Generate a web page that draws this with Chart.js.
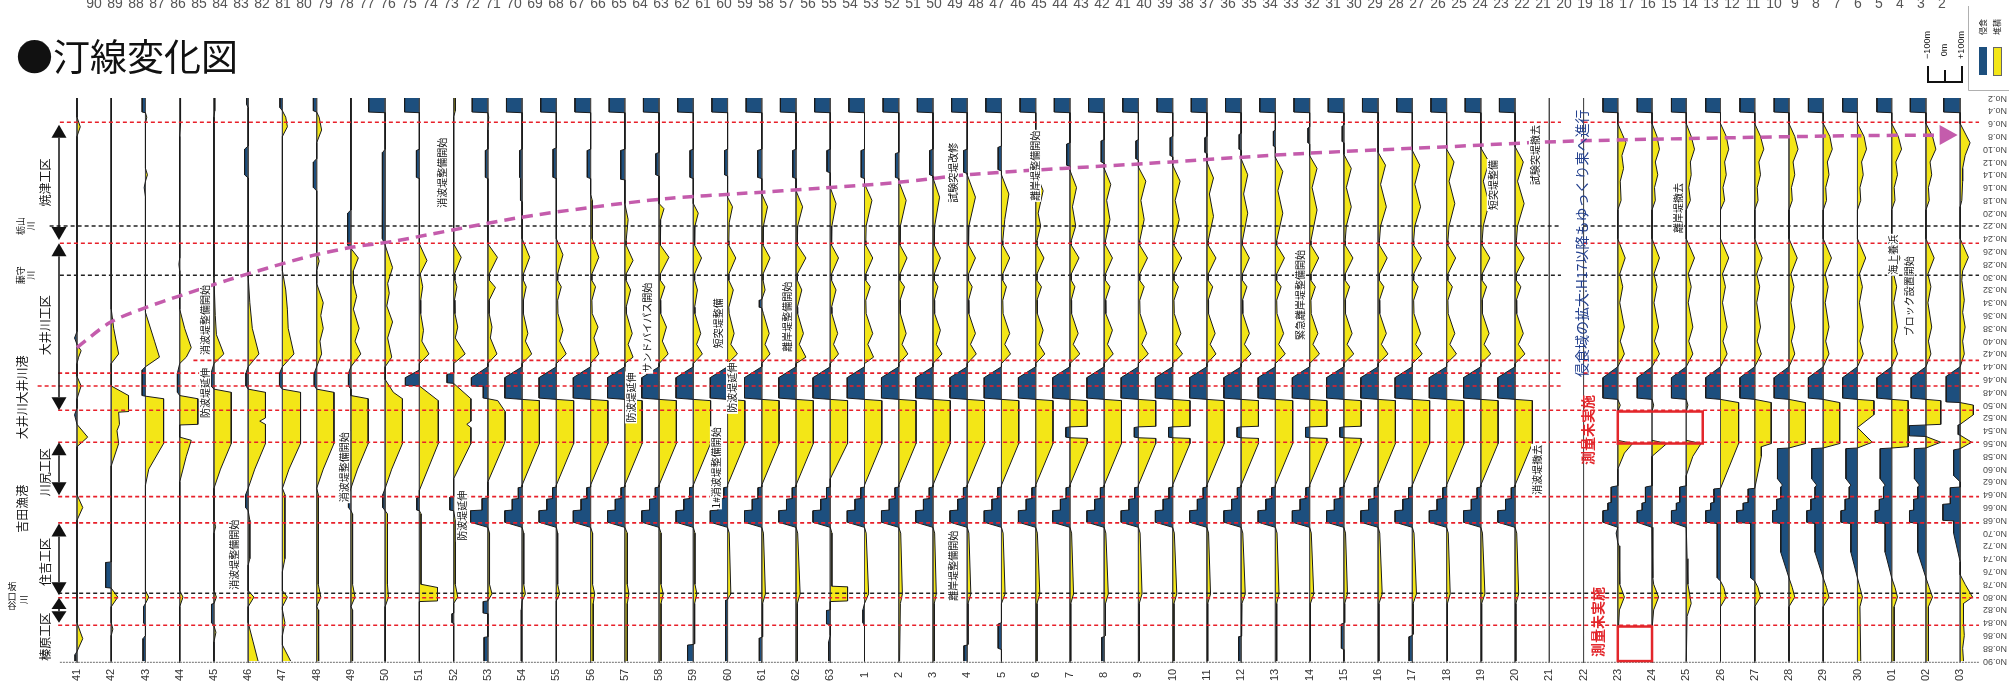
<!DOCTYPE html>
<html>
<head>
<meta charset="utf-8">
<title>汀線変化図</title>
<script src="https://cdn.jsdelivr.net/npm/chart.js@4.4.1/dist/chart.umd.min.js"></script>
<style>
  html, body { margin: 0; padding: 0; background: #fff; }
  #wrap { width: 2009px; height: 685px; }
</style>
</head>
<body>
<div id="wrap"><canvas id="shoreline" width="2009" height="685"></canvas></div>
<script>
// 汀線変化図 — each column is one survey year, stations No.2..No.90 run top to bottom,
// values are shoreline change in metres (− = 侵食 / + = 堆積)

const years = ['41','42','43','44','45','46','47','48','49','50','51','52','53','54','55','56','57','58','59','60','61','62','63',
  '1','2','3','4','5','6','7','8','9','10','11','12','13','14','15','16','17','18','19','20','21','22','23','24','25','26','27','28','29','30',
  '01','02','03'];

// [station, metres, station, metres, ...]; null = not surveyed
const showaProfiles = [
  [2,0, 5,0, 6.5,20, 8,0, 38.5,0, 39.5,-15, 40.5,0, 41.5,25, 42.5,10, 43.5,0, 45.5,0, 47,25, 49,0, 50.5,0, 51.5,-15, 53,0, 55,65, 56.5,0, 64,0, 66,35, 68,0, 84,0, 86.5,35, 88.5,0, 89,-12, 90,-12],
  [2,0, 35,0, 38,15, 42,45, 43.5,0, 47,0, 48.5,105, 51,105, 51.1,45, 53,50, 54,35, 56,45, 59.5,0, 74.5,0, 74.6,-34, 78.5,-34, 78.6,0, 80,40, 81.5,0, 84,0, 85,10, 86,0, 90,0],
  [2,-20, 4.2,-20, 4.3,0, 5,8, 6,0, 13,0, 14,12, 15,0, 16,-8, 17.5,0, 35.5,0, 40,55, 42.5,85, 44,0, 44.5,-20, 48.5,-20, 48.6,0, 49,110, 56,110, 60,20, 62.5,0, 79,0, 80,20, 81,0, 81.5,-12, 84,-12, 84.5,0, 86,0, 86.5,-15, 90,-15],
  [2,5, 6,5, 8,0, 27,0, 28,-5, 29,0, 35,0, 38,30, 41,70, 42.5,40, 43.5,0, 45,-14, 48,-14, 48.5,0, 49,110, 53,110, 53.1,0, 55,0, 55.5,70, 58,40, 62,0, 79,0, 80,20, 81.5,0, 90,0],
  [2,5, 4,5, 5,0, 30,0, 36,8, 39,15, 42,60, 43.5,0, 45,-18, 47,-18, 47.5,0, 48,105, 56,105, 60,40, 63,0, 68,0, 69,10, 70,0, 79,0, 80,15, 81,0, 81.1,-15, 84,-15, 84.5,0, 85.5,12, 87,0, 90,0],
  [2,-10, 3,-10, 3.5,0, 9.5,0, 10,-22, 14,-22, 14.5,0, 30,0, 34,10, 38,25, 42,65, 44,0, 45,-14, 47,-14, 47.5,0, 48,105, 52,105, 52.5,70, 53,105, 56,105, 60,40, 63,0, 64,-16, 66,-16, 66.5,0, 68,10, 74,10, 75,0, 79,0, 80,35, 81.5,0, 84,0, 87,30, 90,60],
  [2,-15, 3.5,-15, 4,0, 5,20, 6.5,30, 8,0, 29,0, 32,20, 35,30, 38,35, 42,70, 44,0, 45,-18, 47,-18, 47.5,0, 48,110, 56,110, 60,40, 63,0, 64,15, 74,15, 76,0, 79,0, 80,30, 81.5,0, 82,0, 84,15, 86,0, 87.5,0, 90,50],
  [2,-20, 4,-20, 4.2,0, 5,15, 7,30, 9,0, 11.5,0, 12,-20, 16,-20, 16.5,0, 26,0, 27.5,15, 29,0, 31,0, 34,40, 36,25, 38,40, 40,20, 42,30, 44,0, 45,-15, 47,-15, 47.5,0, 48,105, 56,105, 60,40, 63,0, 64,10, 78,10, 80,25, 81.5,0, 82,10, 90,12],
  [2,0, 19.5,0, 20,-20, 25,-20, 25.5,0, 27,45, 29,15, 31,15, 33,35, 35,15, 38,50, 40,25, 42,60, 44,0, 45,-15, 47,-15, 47.5,0, 48.5,0, 49,105, 56,105, 60,40, 63,0, 64,-15, 66,-15, 66.5,0, 67,10, 78,10, 80,25, 81.5,0, 82,10, 90,10],
  [2,-100, 4.2,-100, 4.3,0, 10,0, 10.5,-15, 14,-15, 14.5,-18, 24,-18, 25,0, 28.5,45, 31,15, 32.5,25, 34.5,10, 37,45, 39.5,15, 42.5,40, 44,0, 46,0, 48,50, 49,105, 56,105, 60,40, 63,0, 64,-15, 66,-15, 66.5,0, 67,14, 78,14, 80,20, 81.5,0, 90,0],
  [2,-90, 4.2,-90, 4.3,0, 10,0, 10.2,-18, 14.4,-18, 14.6,0, 24.8,0, 27.4,46, 29.5,5, 31.5,20, 33.6,8, 35.7,8, 38.3,25, 40,15, 42,58, 43.5,0, 44.5,0, 45.7,-85, 46.9,-85, 47,0, 49.3,115, 56,115, 63.3,0, 64.4,0, 64.5,-16, 66.4,-16, 66.5,0, 67,10, 78,10, 78.5,110, 80.6,110, 80.7,0, 90,0],
  [2,10, 4,10, 5,0, 24.8,0, 26.9,46, 29.5,5, 30.5,8, 31.5,20, 33.6,5, 35.7,8, 37.8,25, 39.5,10, 42,70, 43.5,0, 45,0, 45.2,-40, 46.5,-40, 46.6,0, 49,105, 52.5,105, 53,80, 53.5,105, 56,105, 61.5,0, 64.3,0, 64.4,-23, 66.4,-23, 66.5,0, 68,10, 78,10, 80,25, 81,0, 82.5,0, 82.6,-10, 84,-10, 84.1,0, 90,0],
  [2,-95, 4.2,-95, 4.3,0, 5,5, 7,0, 10,0, 10.2,-15, 14.4,-15, 14.6,0, 24.8,0, 26.9,58, 29.5,8, 30.5,10, 31.6,46, 33.6,8, 35.7,8, 37.8,25, 39.5,15, 42,55, 43.5,0, 44,0, 45.7,-100, 47,-100, 47.1,-28, 48.9,-28, 49,0, 49.3,60, 51,105, 55.5,105, 56,100, 62,0, 64.5,0, 64.6,-35, 66.4,-35, 66.5,-105, 68.3,-105, 69.1,0, 70,10, 78,10, 79.5,25, 80.6,0, 80.7,-28, 82.5,-28, 82.6,0, 86.2,0, 86.3,-23, 90,-23],
  [2,-95, 4.2,-95, 4.3,0, 10,0, 10.2,-15, 14.4,-15, 14.6,-10, 18,-10, 18.2,0, 24,0, 26.9,46, 29.5,8, 30.5,8, 31.5,25, 33.6,8, 35.7,8, 38.8,35, 40,20, 42,58, 43.5,0, 44,0, 45.7,-105, 48.9,-105, 49.1,0, 49.3,105, 56,105, 62.5,0, 62.8,0, 62.9,-23, 64.6,-23, 64.7,-60, 66.4,-60, 66.5,-105, 68.3,-105, 69.1,0, 70,10, 78,10, 79.5,20, 80.6,0, 82,-5, 90,-5],
  [2,-95, 4.2,-95, 4.3,0, 9.8,0, 10,-20, 14.4,-20, 14.6,0, 24,0, 26.5,40, 29.5,8, 30.5,8, 31.5,30, 33.6,8, 35.7,10, 38.3,40, 40,20, 42,60, 43.5,0, 44,0, 45.7,-105, 48.9,-105, 49.1,0, 49.3,105, 56,105, 62.5,0, 62.8,0, 62.9,-23, 64.6,-23, 64.7,-58, 66.4,-58, 66.5,-105, 68.3,-105, 69.1,0, 70,8, 78,8, 79.5,20, 80.6,0, 90,0],
  [2,-95, 4.2,-95, 4.3,0, 10,0, 10.2,-20, 14.4,-20, 14.6,0, 17,0, 18,10, 24,10, 26.9,50, 29.5,8, 30.5,8, 31.5,30, 33.6,8, 35.7,10, 37.8,45, 39.5,20, 42,50, 43.5,0, 44,0, 45.7,-105, 48.9,-105, 49.1,0, 49.3,105, 56,105, 62.5,0, 62.8,0, 62.9,-23, 64.6,-23, 64.7,-58, 66.4,-58, 66.5,-105, 68.3,-105, 69.1,0, 70,12, 78,12, 79.5,25, 81,16, 90,16],
  [2,-95, 4.2,-95, 4.3,0, 10,0, 10.2,-25, 14.7,-25, 14.8,0, 18.5,0, 21,20, 24.3,8, 25,8, 27.4,50, 29.5,8, 30.5,8, 32,35, 34.7,8, 35.7,10, 38.8,45, 40.5,20, 42.5,50, 43.5,0, 44,0, 45.7,-105, 48.9,-105, 49.1,0, 49.3,105, 56,105, 62.5,0, 62.8,0, 62.9,-23, 64.6,-23, 64.7,-58, 66.4,-58, 66.5,-105, 68.3,-105, 69.1,0, 70,15, 78,15, 79.5,25, 81,15, 90,15],
  [2,-95, 4.2,-95, 4.3,0, 10.5,0, 10.7,-20, 14,-20, 14.2,0, 18.5,0, 19.3,30, 21,10, 24.3,8, 25,8, 26.9,60, 29.5,8, 30.5,8, 31.5,35, 33.6,8, 35.7,10, 37.8,45, 40,20, 42,55, 43.5,0, 44,0, 45.7,-105, 48.9,-105, 49.1,0, 49.3,105, 56,105, 62.5,0, 62.8,0, 62.9,-23, 64.6,-23, 64.7,-58, 66.4,-58, 66.5,-105, 68.3,-105, 69.1,0, 70,12, 78,12, 79.5,25, 81,12, 90,12],
  [2,-95, 4.2,-95, 4.3,0, 10,0, 10.2,-20, 14.4,-20, 14.6,0, 18.5,0, 20,30, 22,10, 24.3,8, 25,8, 27,50, 29.5,8, 30.5,8, 32,25, 34.7,8, 35.7,10, 38.8,45, 40.5,20, 42,55, 43.5,0, 44,0, 45.7,-105, 48.9,-105, 49.1,0, 49.3,105, 56,105, 62.5,0, 62.8,0, 62.9,-23, 64.6,-23, 64.7,-58, 66.4,-58, 66.5,-105, 68.3,-105, 69.1,0, 70,10, 78,10, 79.5,22, 81,8, 87.3,8, 87.4,0, 87.5,-35, 90,-35],
  [2,-95, 4.2,-95, 4.3,0, 10,0, 10.2,-18, 14,-18, 14.2,0, 17.5,0, 19,30, 21.5,10, 24.3,8, 25,8, 27,50, 29.5,8, 30.5,8, 32,35, 34.7,8, 35.7,10, 38.8,40, 40.5,20, 42,60, 43.5,0, 44,0, 45.7,-105, 48.9,-105, 49.1,0, 49.3,105, 56,105, 62.5,0, 62.8,0, 62.9,-23, 64.6,-23, 64.7,-58, 66.4,-58, 66.5,-105, 68.3,-105, 69.1,0, 70,10, 79.5,20, 80.4,0, 80.5,-12, 90,-12],
  [2,-95, 4.2,-95, 4.3,0, 10,0, 10.2,-25, 14.4,-25, 14.6,0, 17,0, 19,35, 22,10, 24.3,8, 25,8, 27,50, 29.5,8, 30.5,8, 32,20, 33.5,0, 33.6,-15, 34.7,-15, 34.8,0, 35.7,10, 38.8,45, 40.5,20, 42,50, 43.5,0, 44,0, 45.7,-105, 48.9,-105, 49.1,0, 49.3,105, 56,105, 62.5,0, 62.8,0, 62.9,-23, 64.6,-23, 64.7,-58, 66.4,-58, 66.5,-105, 68.3,-105, 69.1,0, 70,10, 79.5,22, 81,5, 86.2,5, 86.3,0, 86.4,-15, 90,-15],
  [2,-95, 4.2,-95, 4.3,0, 10,0, 10.2,-20, 14.4,-20, 14.6,0, 16.5,0, 19,40, 22,10, 24.3,8, 25,8, 27,60, 29.5,8, 30.5,8, 32,35, 34.7,8, 35.7,10, 38.8,45, 40.5,20, 42.5,60, 43.5,0, 44,0, 45.7,-105, 48.9,-105, 49.1,0, 49.3,105, 56,105, 62.5,0, 62.8,0, 62.9,-23, 64.6,-23, 64.7,-58, 66.4,-58, 66.5,-105, 68.3,-105, 69.1,0, 70,10, 79.5,25, 81,8, 90,8],
  [2,-95, 4.2,-95, 4.3,0, 10,0, 10.2,-20, 13.5,-20, 13.7,0, 16,0, 18.5,35, 22,10, 24.3,8, 25,8, 27,50, 29.5,8, 30.5,8, 32,35, 34.7,8, 35.7,10, 38.8,45, 40.5,20, 42,50, 43.5,0, 44,0, 45.7,-105, 48.9,-105, 49.1,0, 49.3,105, 56,105, 61.5,0, 62.8,0, 62.9,-23, 64.6,-23, 64.7,-58, 66.4,-58, 66.5,-105, 68.3,-105, 69.1,0, 70,10, 78.3,10, 78.4,105, 80.6,105, 80.7,0, 82,0, 82.1,-23, 84.2,-23, 84.3,0, 86,0, 87,-10, 90,-10]
];

const heiseiProfiles = [
  [2,-95, 4.2,-95, 4.3,0, 10,0, 10.2,-20, 14.4,-20, 14.6,0, 15.4,0, 18,45, 22,10, 24.3,8, 25,8, 27,50, 29.5,8, 30.5,8, 31.5,35, 33.6,8, 35.7,10, 38.8,50, 40.5,20, 42.5,55, 43.5,0, 44,0, 45.7,-105, 48.9,-105, 49.1,0, 49.3,105, 56,105, 62.5,0, 62.8,0, 62.9,-23, 64.6,-23, 64.7,-58, 66.4,-58, 66.5,-105, 68.3,-105, 69.1,0, 70,10, 79.5,25, 81,0, 82,-10, 84,-10, 84.5,0, 90,0],
  [2,-95, 4.2,-95, 4.3,0, 10.5,0, 10.7,-20, 14.4,-20, 14.6,0, 15,0, 18,45, 22,10, 24.3,8, 25,8, 27,50, 29.5,8, 30.5,8, 31.5,35, 33.6,8, 35.7,10, 38.8,45, 40.5,20, 42,55, 43.5,0, 44,0, 45.7,-105, 48.9,-105, 49.1,0, 49.3,105, 56,105, 62.5,0, 62.8,0, 62.9,-23, 64.6,-23, 64.7,-58, 66.4,-58, 66.5,-105, 68.3,-105, 69.1,0, 70,12, 79.5,22, 81,10, 90,5],
  [2,-95, 4.2,-95, 4.3,0, 10,0, 10.2,-20, 14,-20, 14.2,0, 14.5,0, 17.5,40, 22,10, 24.3,8, 25,8, 27,45, 29.5,8, 30.5,8, 31.5,30, 33.6,8, 35.7,10, 38.3,45, 40.5,20, 42,55, 43.5,0, 44,0, 45.7,-105, 48.9,-105, 49.1,0, 49.3,105, 56,105, 62.5,0, 62.8,0, 62.9,-23, 64.6,-23, 64.7,-58, 66.4,-58, 66.5,-105, 68.3,-105, 69.1,0, 70,10, 79.5,20, 81,8, 90,8],
  [2,-95, 4.2,-95, 4.3,0, 10,0, 10.2,-22, 13.6,-22, 13.8,0, 14,0, 17.5,50, 22,10, 24.3,8, 25,8, 27,50, 29.5,8, 30.5,8, 31.5,30, 33.6,8, 35.7,10, 38.8,50, 40.5,20, 42,55, 43.5,0, 44,0, 45.7,-105, 48.9,-105, 49.1,0, 49.3,105, 56,105, 62.5,0, 62.8,0, 62.9,-23, 64.6,-23, 64.7,-58, 66.4,-58, 66.5,-105, 68.3,-105, 69.1,0, 70,10, 79.5,22, 81,5, 87.4,5, 87.5,0, 87.6,-20, 90,-20],
  [2,-95, 4.2,-95, 4.3,0, 9.5,0, 9.7,-20, 13.2,-20, 13.4,0, 14,0, 17,45, 21,20, 24.3,8, 25,8, 27,50, 29.5,8, 30.5,8, 31.5,30, 33.6,8, 35.7,10, 38.8,50, 40.5,20, 42,55, 43.5,0, 44,0, 45.7,-105, 48.9,-105, 49.1,0, 49.3,105, 56,105, 62.5,0, 62.8,0, 62.9,-23, 64.6,-23, 64.7,-58, 66.4,-58, 66.5,-105, 68.3,-105, 69.1,0, 70,10, 79.5,22, 81,0, 84,0, 84.2,-20, 88,-20, 88.2,0, 90,0],
  [2,-95, 4.2,-95, 4.3,0, 9,0, 9.2,-20, 12.8,-20, 13,0, 13.5,0, 16.5,45, 20,15, 22,30, 24.3,8, 25,8, 27,50, 29.5,8, 30.5,8, 31.5,35, 33.6,8, 35.7,10, 38.3,45, 40.5,20, 42,55, 43.5,0, 44,0, 45.7,-105, 48.9,-105, 49.1,0, 49.3,105, 56,105, 62.5,0, 62.8,0, 62.9,-23, 64.6,-23, 64.7,-58, 66.4,-58, 66.5,-105, 68.3,-105, 69.1,0, 70,10, 79.5,25, 81,8, 90,8],
  [2,-95, 4.2,-95, 4.3,0, 9,0, 9.2,-20, 12.5,-20, 12.7,0, 13.3,0, 16,40, 19,15, 22,35, 24.3,8, 25,8, 27,55, 29.5,8, 30.5,8, 31.5,30, 33.6,8, 35.7,10, 38.8,50, 40.5,20, 42,60, 43.5,0, 44,0, 45.7,-105, 48.9,-105, 49.1,0, 49.3,105, 53.3,105, 53.4,0, 53.5,-25, 55,-25, 55.1,0, 55.2,105, 56,105, 62.5,0, 62.8,0, 62.9,-23, 64.6,-23, 64.7,-58, 66.4,-58, 66.5,-105, 68.3,-105, 69.1,0, 70,10, 79.5,22, 81,5, 90,5],
  [2,-95, 4.2,-95, 4.3,0, 8.5,0, 8.7,-18, 12,-18, 12.2,0, 13,0, 15.5,40, 18,15, 21,35, 24.3,8, 25,8, 27,50, 29.5,8, 30.5,8, 31.5,35, 33.6,8, 35.7,10, 38.3,50, 40.5,20, 42,55, 43.5,0, 44,0, 45.7,-105, 48.9,-105, 49.1,0, 49.3,105, 56,105, 62.5,0, 62.8,0, 62.9,-23, 64.6,-23, 64.7,-58, 66.4,-58, 66.5,-105, 68.3,-105, 69.1,0, 70,10, 79.5,25, 81,8, 86,8, 86.2,0, 86.3,-15, 90,-15],
  [2,-95, 4.2,-95, 4.3,0, 8.5,0, 8.7,-15, 11.5,-15, 11.7,0, 12.8,0, 15,45, 18,15, 21,35, 24.3,8, 25,8, 27,55, 29.5,8, 30.5,8, 31.5,35, 33.6,8, 35.7,10, 38.8,50, 40.5,20, 42,60, 43.5,0, 44,0, 45.7,-105, 48.9,-105, 49.1,0, 49.3,105, 53.3,105, 53.4,0, 53.5,-25, 55,-25, 55.1,0, 55.2,105, 56,105, 62.5,0, 62.8,0, 62.9,-23, 64.6,-23, 64.7,-58, 66.4,-58, 66.5,-105, 68.3,-105, 69.1,0, 70,10, 79.5,22, 81,5, 90,5],
  [2,-95, 4.2,-95, 4.3,0, 8,0, 8.2,-15, 11,-15, 11.2,0, 12.5,0, 15,45, 18,15, 21,40, 24.3,8, 25,8, 27,55, 29.5,8, 30.5,8, 31.5,35, 33.6,8, 35.7,10, 38.8,50, 40.5,20, 42,60, 43.5,0, 44,0, 45.7,-105, 48.9,-105, 49.1,0, 49.3,105, 53.3,105, 53.4,0, 53.5,-25, 55,-25, 55.1,0, 55.2,105, 56,105, 62.5,0, 62.8,0, 62.9,-23, 64.6,-23, 64.7,-58, 66.4,-58, 66.5,-105, 68.3,-105, 69.1,0, 70,10, 79.5,25, 81,8, 90,8],
  [2,-95, 4.2,-95, 4.3,0, 8,0, 8.2,-12, 10.5,-12, 10.7,0, 12,0, 14.5,40, 17,15, 20.5,40, 24.3,8, 25,8, 27,55, 29.5,8, 30.5,8, 31.5,35, 33.6,8, 35.7,10, 38.8,50, 40.5,20, 42,55, 43.5,0, 44,0, 45.7,-105, 48.9,-105, 49.1,0, 49.3,105, 56,105, 62.5,0, 62.8,0, 62.9,-23, 64.6,-23, 64.7,-58, 66.4,-58, 66.5,-105, 68.3,-105, 69.1,0, 70,10, 79.5,22, 81,5, 90,5],
  [2,-95, 4.2,-95, 4.3,0, 7.5,0, 7.7,-12, 10,-12, 10.2,0, 11.5,0, 14,40, 17,15, 20,40, 24.3,8, 25,8, 27,50, 29.5,8, 30.5,8, 31.5,35, 33.6,8, 35.7,10, 38.8,50, 40.5,20, 42,60, 43.5,0, 44,0, 45.7,-105, 48.9,-105, 49.1,0, 49.3,105, 53.3,105, 53.4,0, 53.5,-25, 55,-25, 55.1,0, 55.2,105, 56,105, 62.5,0, 62.8,0, 62.9,-23, 64.6,-23, 64.7,-58, 66.4,-58, 66.5,-105, 68.3,-105, 69.1,0, 70,10, 79.5,25, 81,5, 86,5, 86.1,0, 86.2,-15, 90,-15],
  [2,-95, 4.2,-95, 4.3,0, 7,0, 7.2,-12, 9.5,-12, 9.7,0, 11.3,0, 13.5,45, 16.5,15, 20,45, 24.3,8, 25,8, 27,55, 29.5,8, 30.5,8, 31.5,35, 33.6,8, 35.7,10, 38.8,50, 40.5,20, 42,60, 43.5,0, 44,0, 45.7,-105, 48.9,-105, 49.1,0, 49.3,105, 56,105, 62.5,0, 62.8,0, 62.9,-23, 64.6,-23, 64.7,-58, 66.4,-58, 66.5,-105, 68.3,-105, 69.1,0, 70,10, 79.5,22, 81,8, 90,8],
  [2,-95, 4.2,-95, 4.3,0, 6.5,0, 6.7,-10, 9,-10, 9.2,0, 11,0, 13,45, 16,15, 19.5,45, 24.3,8, 25,8, 27,55, 29.5,8, 30.5,8, 31.5,35, 33.6,8, 35.7,10, 38.8,50, 40.5,20, 42,60, 43.5,0, 44,0, 45.7,-105, 48.9,-105, 49.1,0, 49.3,105, 53.3,105, 53.4,0, 53.5,-25, 55,-25, 55.1,0, 55.2,105, 56,105, 62.5,0, 62.8,0, 62.9,-23, 64.6,-23, 64.7,-58, 66.4,-58, 66.5,-105, 68.3,-105, 69.1,0, 70,10, 79.5,25, 81,5, 90,5],
  [2,-95, 4.2,-95, 4.3,0, 6.2,0, 6.4,-10, 8.8,-10, 9,0, 10.8,0, 13,45, 16,15, 19,45, 22,15, 24.3,8, 25,8, 27,55, 29.5,8, 30.5,8, 31.5,35, 33.6,8, 35.7,10, 38.8,50, 40.5,20, 42,60, 43.5,0, 44,0, 45.7,-105, 48.9,-105, 49.1,0, 49.3,105, 53.3,105, 53.4,0, 53.5,-25, 55,-25, 55.1,0, 55.2,105, 56,105, 62.5,0, 62.8,0, 62.9,-23, 64.6,-23, 64.7,-58, 66.4,-58, 66.5,-105, 68.3,-105, 69.1,0, 70,10, 79.5,22, 81,5, 84,5, 84.1,0, 84.2,-15, 88,-15, 88.2,0, 90,0],
  [2,-95, 4.2,-95, 4.3,0, 10.5,0, 12.5,45, 15.5,15, 19,50, 22,15, 24.3,8, 25,8, 27,55, 29.5,8, 30.5,8, 31.5,35, 33.6,8, 35.7,10, 38.8,50, 40.5,20, 42,60, 43.5,0, 44,0, 45.7,-105, 48.9,-105, 49.1,0, 49.3,105, 56,105, 62.5,0, 62.8,0, 62.9,-23, 64.6,-23, 64.7,-58, 66.4,-58, 66.5,-105, 68.3,-105, 69.1,0, 70,10, 79.5,25, 81,5, 90,5],
  [2,-95, 4.2,-95, 4.3,0, 10.2,0, 12.5,45, 15.5,15, 19,50, 22,15, 24.3,8, 25,8, 27,55, 29.5,8, 30.5,8, 31.5,35, 33.6,8, 35.7,10, 38.8,50, 40.5,20, 42,60, 43.5,0, 44,0, 45.7,-105, 48.9,-105, 49.1,0, 49.3,105, 56,105, 62.5,0, 62.8,0, 62.9,-23, 64.6,-23, 64.7,-58, 66.4,-58, 66.5,-105, 68.3,-105, 69.1,0, 70,10, 79.5,25, 81,5, 85.8,5, 86,0, 86.2,-20, 90,-20],
  [2,-95, 4.2,-95, 4.3,0, 10,0, 12,45, 15,15, 18.5,50, 22,15, 24.3,8, 25,8, 27,55, 29.5,8, 30.5,8, 31.5,35, 33.6,8, 35.7,10, 38.8,50, 40.5,20, 42,60, 43.5,0, 44,0, 45.7,-105, 48.9,-105, 49.1,0, 49.3,105, 56,105, 62.5,0, 62.8,0, 62.9,-23, 64.6,-23, 64.7,-58, 66.4,-58, 66.5,-105, 68.3,-105, 69.1,0, 70,10, 79.5,22, 81,5, 90,5],
  [2,-95, 4.2,-95, 4.3,0, 9.8,0, 12,50, 15,15, 18.5,50, 22,15, 24.3,8, 25,8, 27,55, 29.5,8, 30.5,8, 31.5,35, 33.6,8, 35.7,10, 38.8,50, 40.5,20, 42,60, 43.5,0, 44,0, 45.7,-105, 48.9,-105, 49.1,0, 49.3,105, 56,105, 62.5,0, 62.8,0, 62.9,-23, 64.6,-23, 64.7,-58, 66.4,-58, 66.5,-105, 68.3,-105, 69.1,0, 70,10, 79.5,25, 81,5, 90,5],
  [2,-95, 4.2,-95, 4.3,0, 9.6,0, 12,50, 15,15, 18.5,55, 22,15, 24.3,8, 25,8, 27,55, 29.5,8, 30.5,8, 31.5,35, 33.6,8, 35.7,10, 38.8,50, 40.5,20, 42,60, 43.5,0, 44,0, 45.7,-105, 48.9,-105, 49.1,0, 49.3,105, 56,105, 62.5,0, 62.8,0, 62.9,-23, 64.6,-23, 64.7,-58, 66.4,-58, 66.5,-105, 68.3,-105, 69.1,0, 70,10, 79.5,22, 81,5, 90,5],
  null,
  null,
  [2,-90, 4.2,-90, 4.3,0, 6,0, 7.5,25, 9,50, 11,25, 13,35, 15,15, 18,20, 19.5,0, 24,0, 27,45, 29.5,12, 31.5,30, 34,12, 37.8,40, 40,15, 42,40, 44,0, 45.7,-90, 48.9,-90, 49.1,0, 50,15, 51,0, 51.1,null, 55.4,null, 55.5,0, 56,90, 57.5,40, 60,0, 62.6,0, 62.8,-40, 65.2,-40, 65.3,-60, 66.4,-60, 66.5,-90, 68.3,-90, 69.1,0, 70,-10, 71.5,0, 72,8, 78,12, 80,40, 82,10, 84.4,5],
  [2,-90, 4.2,-90, 4.3,0, 6,0, 8,30, 10,45, 12,20, 14,35, 16,15, 18,20, 19.5,0, 24,0, 27,45, 29.5,12, 31.5,30, 34,12, 37.8,40, 40,15, 42,45, 44,0, 45.7,-90, 48.9,-90, 49.1,0, 50,10, 51,0, 51.1,null, 55.4,null, 55.5,0, 56,90, 58,0, 62.6,0, 62.8,-40, 65.2,-40, 65.3,-60, 66.4,-60, 66.5,-90, 68.3,-90, 69.1,0, 72,5, 77,5, 78,10, 80,40, 82,10, 85,0, 90,0],
  [2,-90, 4.2,-90, 4.3,0, 6,0, 8,30, 10,50, 12,25, 14,30, 16,15, 18,25, 19.5,0, 24,0, 27,50, 29.5,12, 31.5,30, 34,12, 37.8,40, 40,15, 42,40, 44,0, 45.7,-90, 48.9,-90, 49.1,0, 50,10, 51,0, 51.1,null, 55.4,null, 55.5,0, 56,90, 58,40, 61,0, 62.6,0, 62.8,-40, 65.2,-40, 65.3,-60, 66.4,-60, 66.5,-90, 68.3,-90, 69.1,0, 74,5, 78,10, 81,30, 83,5, 90,0],
  [2,-90, 4.2,-90, 4.3,0, 6,0, 8,35, 10,50, 12,25, 14,35, 16,15, 18,25, 19.5,0, 24,0, 27,50, 29.5,12, 31.5,30, 34,12, 37.8,40, 40,15, 42,40, 44,0, 45.7,-90, 48.9,-90, 49.1,0, 49.6,110, 56,110, 63,0, 63.1,-40, 65.2,-40, 65.3,-60, 66.4,-60, 66.5,-90, 68.3,-90, 68.5,-20, 77,-20, 77.5,0, 78.5,20, 80,35, 81.5,0, 90,0],
  [2,-90, 4.2,-90, 4.3,0, 6,0, 8,35, 10,55, 12,25, 14,35, 16,15, 18,20, 19.5,0, 24,0, 27,45, 29.5,12, 31.5,30, 34,12, 37.8,35, 40,15, 42,40, 44,0, 45.7,-90, 48.9,-90, 49.1,0, 49.6,100, 56,100, 56.5,40, 58,40, 63,0, 63.1,-40, 65.2,-40, 65.3,-70, 66.4,-70, 66.5,-110, 68.3,-110, 68.5,-25, 77,-25, 77.5,0, 78.5,20, 80,35, 81.5,0, 90,0],
  [2,-90, 4.2,-90, 4.3,0, 6,0, 8,35, 10,55, 12,25, 14,35, 16,15, 18,20, 19.5,0, 24,0, 27,50, 29.5,12, 31.5,30, 34,12, 37.8,35, 40,15, 42,35, 44,0, 45.7,-90, 48.9,-90, 49.1,0, 49.6,100, 56,100, 56.7,0, 56.8,-70, 61.5,-70, 62.5,-40, 62.8,-50, 64.6,-50, 64.7,-75, 66.4,-75, 66.5,-100, 68.3,-100, 68.5,-50, 73,-50, 77,0, 78.5,20, 80,35, 81.5,0, 90,0],
  [2,-90, 4.2,-90, 4.3,0, 6,0, 8,40, 10,55, 12,25, 14,35, 16,15, 18,20, 19.5,0, 24,0, 27,50, 29.5,12, 31.5,30, 34,12, 37.8,35, 40,15, 42,35, 44,0, 45.7,-90, 48.9,-90, 49.1,0, 49.6,100, 56,100, 56.7,0, 56.8,-70, 61.5,-70, 62.5,-40, 62.8,-50, 64.6,-50, 64.7,-75, 66.4,-75, 66.5,-100, 68.3,-100, 68.5,-50, 73,-50, 77,0, 78.5,20, 80,35, 81.5,0, 90,0],
  [2,-90, 4.2,-90, 4.3,0, 6,0, 8,40, 10,55, 12,25, 14,35, 16,15, 18,20, 19.5,0, 24,0, 27,50, 29.5,12, 31.5,30, 34,12, 37.8,35, 40,15, 42,35, 44,0, 45.7,-90, 48.9,-90, 49.1,0, 49.3,100, 51.5,100, 53.5,0, 55.8,90, 56.7,0, 56.8,-70, 61.5,-70, 62.5,-40, 62.8,-50, 64.6,-50, 64.7,-75, 66.4,-75, 66.5,-100, 68.3,-100, 68.5,-40, 73,-40, 77,0, 78.5,15, 80,30, 81.5,15, 90,20]
];

const reiwaProfiles = [
  [2,-90, 4.2,-90, 4.3,0, 6,0, 8,40, 10,60, 12,25, 14,35, 16,15, 18,20, 19.5,0, 24,0, 27,50, 29.5,12, 31.5,30, 34,12, 37.8,35, 40,15, 42,35, 44,0, 45.7,-90, 48.9,-90, 49.1,0, 49.3,100, 56.5,100, 56.7,0, 56.8,-70, 61.5,-70, 62.5,-40, 62.8,-50, 64.6,-50, 64.7,-75, 66.4,-75, 66.5,-100, 68.3,-100, 68.5,-40, 73,-40, 77,0, 78.5,20, 80,35, 81.5,15, 90,15],
  [2,-95, 4.2,-95, 4.3,0, 6,0, 8,40, 10,60, 12,25, 14,35, 16,15, 18,20, 19.5,0, 24,0, 27,50, 29.5,12, 31.5,30, 34,12, 37.8,35, 40,15, 42,30, 44,0, 45.7,-90, 48.9,-90, 49.1,0, 49.3,90, 53,90, 53.1,0, 53.2,-100, 54.8,-100, 54.9,0, 55.8,90, 56.7,0, 56.8,-70, 61.5,-70, 62.5,-40, 62.8,-50, 64.6,-50, 64.7,-75, 66.4,-75, 66.5,-100, 68.3,-100, 68.5,-50, 73,-50, 77,0, 78.5,20, 80,40, 81.5,15, 90,15],
  [2,-100, 4.2,-100, 4.3,0, 6,0, 7,20, 9,60, 11,30, 13,15, 15,15, 18,10, 19,0, 24,0, 26.9,50, 29,15, 30.5,10, 33.6,25, 35.5,15, 37.8,30, 40,15, 42,25, 44,0, 45.5,-85, 49.5,-85, 49.6,0, 50,80, 51.5,80, 53,0, 53.1,-12, 54.6,-12, 54.7,0, 55.8,70, 56.8,0, 57,-40, 61,-40, 62,0, 62.8,0, 62.9,-60, 65.4,-60, 65.5,-105, 68,-105, 68.1,-40, 70,-40, 74.5,0, 76.5,0, 78,30, 80,75, 81,20, 84,20, 86,25, 88,15, 90,20]
];

const profiles = [...showaProfiles, ...heiseiProfiles, ...reiwaProfiles];

// reference lines (station numbers) and where they start (column units)
const redLevels   = [5.8, 24.7, 43, 45, 47, 50.8, 55.8, 64.3, 68.4, 80.1, 84.4];
const redFrom     = [-0.5, -0.5, 3.4, -0.55, -1.15, -0.55, -0.55, -0.55, -0.55, -0.55, -0.55];
const blackLevels = [22, 29.7, 79.4];
const blackFrom   = [-0.8, -0.5, -0.55];

// erosion front (column position, station)
const frontCol = [0, 0.96, 1.93, 3.07, 4.38, 5.55, 6.89, 8.06, 9.23, 12.79, 15.01, 17.26, 19.48, 21.73, 23.95, 26.2, 31.34, 35.72, 40.1, 43.3, 47.4, 51.8, 54.4];
const frontSt  = [41.0, 37.1, 34.9, 32.8, 30.5, 28.6, 26.6, 25.3, 24.4, 20.8, 19.1, 17.7, 16.9, 16.1, 15.2, 13.9, 12.2, 10.7, 9.6, 8.8, 8.3, 7.9, 7.8];

// coastal sections on the left
const sectionNames = ['焼津工区', '大井川工区', '川尻工区', '住吉工区', '榛原工区'];
const sectionFrom  = [6.2, 24.7, 55.8, 68.5, 80.1];
const sectionTo    = [24.2, 50.8, 64.1, 79.7, 84.0];
const sectionLabelSt = [15.2, 37.5, 60.5, 74.5, 86.2];

// notes written along the columns
const noteText = ['消波堤整備開始','防波堤延伸','消波堤整備開始','消波堤整備開始','消波堤整備開始','防波堤延伸','サンドバイパス開始','防波堤延伸','短突堤整備','防波堤延伸','1#消波堤整備開始','離岸堤整備開始','試験突堤改修','離岸堤整備開始','離岸堤整備開始','緊急離岸堤整備開始','短突堤整備','試験突堤撤去','消波堤撤去','離岸堤撤去','海上養浜','ブロック設置開始'];
const noteCol  = [3.74, 3.74, 4.59, 7.8, 10.66, 11.24, 16.65, 16.18, 18.72, 19.13, 18.66, 20.74, 25.58, 25.58, 27.98, 35.72, 41.35, 42.58, 42.64, 46.76, 53.04, 53.5];
const noteSt   = [36.7, 48.1, 73.4, 59.7, 13.7, 67.3, 37.9, 48.8, 37.2, 47.3, 59.8, 36.2, 13.7, 75.1, 12.6, 32.8, 15.6, 10.9, 60.1, 19.2, 26.5, 33];

const SPACING = 208;   // metres between neighbouring columns
const ERODE = '#1d4f7e';
const ACCRETE = '#f3e617';
const CJK = '"Noto Sans CJK JP", "Noto Sans CJK SC", sans-serif';

const datasets = [];
profiles.forEach((prof, i) => {
  const base = i * SPACING;
  datasets.push({ data: [{x: base, y: 2}, {x: base, y: 90.3}], borderColor: '#4b4b4b', borderWidth: 1, pointRadius: 0, fill: false, order: 4 });
  if (!prof) return;
  const pts = (f) => {
    const out = [];
    for (let j = 0; j < prof.length; j += 2) {
      const v = prof[j + 1];
      out.push({ x: v === null ? null : base + f(v), y: prof[j] });
    }
    return out;
  };
  const clear = 'rgba(0,0,0,0)';
  datasets.push({ data: pts(v => Math.max(v, 0)), borderColor: clear, borderWidth: 0.1, pointRadius: 0, backgroundColor: ACCRETE, fill: { target: { value: base } }, order: 6 });
  datasets.push({ data: pts(v => Math.min(v, 0)), borderColor: clear, borderWidth: 0.1, pointRadius: 0, backgroundColor: ERODE, fill: { target: { value: base } }, order: 6 });
  datasets.push({ data: pts(v => v), borderColor: '#1b1b1b', borderWidth: 1, pointRadius: 0, fill: false, order: 3 });
});

const END_COL = 55.55, GAP_A = 43.34, GAP_B = 44.0;
function levelLine(st, fromCol, color, width) {
  const data = [{x: fromCol * SPACING, y: st}];
  if (st < 48) data.push({x: GAP_A * SPACING, y: st}, {x: null, y: st}, {x: GAP_B * SPACING, y: st});
  data.push({x: END_COL * SPACING, y: st});
  return { data, borderColor: color, borderWidth: width, borderDash: [4, 3], pointRadius: 0, fill: false, order: 2 };
}
redLevels.forEach((s, k) => datasets.push(levelLine(s, redFrom[k], '#e8202a', 1.6)));
blackLevels.forEach((s, k) => datasets.push(levelLine(s, blackFrom[k], '#222', 1.6)));

// bottom axis line
datasets.push({ data: [{x: -0.5 * SPACING, y: 90.3}, {x: END_COL * SPACING, y: 90.3}], borderColor: '#8a8a8a', borderWidth: 2.5, borderDash: [2, 1], pointRadius: 0, fill: false, order: 2 });

const FRONT_INDEX = datasets.length;
datasets.push({
  data: frontCol.map((c, k) => ({x: c * SPACING, y: frontSt[k]})),
  borderColor: '#c45cac', borderWidth: 3.5, borderDash: [11, 7], tension: 0.3,
  pointRadius: 0, fill: false, order: 1
});

function vtext(ctx, str, x, y, font, color, angle) {
  ctx.save();
  ctx.translate(x, y);
  ctx.rotate(angle === undefined ? -Math.PI / 2 : angle);
  ctx.font = font;
  ctx.fillStyle = color;
  ctx.textAlign = 'center';
  ctx.textBaseline = 'middle';
  ctx.fillText(str, 0, 0);
  ctx.restore();
}

const decor = {
  id: 'decor',
  afterDraw(chart) {
    const ctx = chart.ctx;
    const xs = chart.scales.x, ys = chart.scales.y;
    const px = (col, m) => xs.getPixelForValue(col * SPACING + (m || 0));
    const py = (st) => ys.getPixelForValue(st);

    // arrow head of the erosion front
    const pts = chart.getDatasetMeta(FRONT_INDEX).data;
    const a = pts[pts.length - 2], b = pts[pts.length - 1];
    const ang = Math.atan2(b.y - a.y, b.x - a.x);
    ctx.save();
    ctx.translate(b.x, b.y);
    ctx.rotate(ang);
    ctx.fillStyle = '#c45cac';
    ctx.beginPath();
    ctx.moveTo(18, 0); ctx.lineTo(0, -10); ctx.lineTo(0, 10); ctx.closePath();
    ctx.fill();
    ctx.restore();

    // title
    ctx.save();
    ctx.font = '37px ' + CJK;
    ctx.fillStyle = '#111';
    ctx.textBaseline = 'middle';
    ctx.fillText('●汀線変化図', 16, 57);
    ctx.restore();

    // clipped number row along the top edge
    ctx.save();
    ctx.font = '14px "Liberation Sans", Arial, sans-serif';
    ctx.fillStyle = '#555';
    ctx.textAlign = 'center';
    ctx.textBaseline = 'alphabetic';
    for (let n = 90; n >= 2; n--) ctx.fillText(String(n), 94 + (90 - n) * 21.0, 8);
    ctx.restore();

    // station labels on the right, upside down
    ctx.save();
    ctx.font = '9px "Liberation Sans", Arial, sans-serif';
    ctx.fillStyle = '#4a4a4a';
    for (let n = 2; n <= 90; n += 2) {
      ctx.save();
      ctx.translate(2007, py(n));
      ctx.rotate(Math.PI);
      ctx.textAlign = 'left';
      ctx.textBaseline = 'middle';
      ctx.fillText('No.' + n, 0, 0);
      ctx.restore();
    }
    ctx.restore();

    // year labels under each column
    years.forEach((y, i) => vtext(ctx, y, px(i), 675, '11px "Liberation Sans", Arial, sans-serif', '#333'));

    // section arrows
    ctx.save();
    ctx.strokeStyle = '#111';
    ctx.fillStyle = '#111';
    ctx.lineWidth = 1.5;
    sectionNames.forEach((name, k) => {
      const x = 59, y1 = py(sectionFrom[k]), y2 = py(sectionTo[k]);
      const h = Math.min(13, (y2 - y1) / 2.2);
      ctx.beginPath(); ctx.moveTo(x, y1 + h); ctx.lineTo(x, y2 - h); ctx.stroke();
      ctx.beginPath(); ctx.moveTo(x, y1); ctx.lineTo(x - 7.5, y1 + h); ctx.lineTo(x + 7.5, y1 + h); ctx.closePath(); ctx.fill();
      ctx.beginPath(); ctx.moveTo(x, y2); ctx.lineTo(x - 7.5, y2 - h); ctx.lineTo(x + 7.5, y2 - h); ctx.closePath(); ctx.fill();
      vtext(ctx, name, 45, py(sectionLabelSt[k]), '12px ' + CJK, '#111');
    });
    ctx.restore();

    // rivers and harbours
    const small = '9px ' + CJK;
    vtext(ctx, '栃山', 21, py(22), small, '#111');
    vtext(ctx, '川', 31, py(22), small, '#111');
    vtext(ctx, '藤守', 21, py(29.7), small, '#111');
    vtext(ctx, '川', 31, py(29.7), small, '#111');
    vtext(ctx, '大井川港', 22, py(46), '12px ' + CJK, '#111');
    vtext(ctx, '大井川', 22, py(52.5), '12px ' + CJK, '#111');
    vtext(ctx, '吉田漁港', 22, py(66.2), '12px ' + CJK, '#111');
    ctx.save();
    ctx.font = small; ctx.fillStyle = '#111'; ctx.textAlign = 'center'; ctx.textBaseline = 'middle';
    ctx.fillText('坂', 12, py(78.4)); ctx.fillText('口', 12, py(79.9)); ctx.fillText('谷', 12, py(81.4));
    ctx.restore();
    vtext(ctx, '川', 24, py(80.4), small, '#111');

    // notes along the columns
    ctx.save();
    ctx.font = '10px ' + CJK;
    noteText.forEach((t, k) => {
      const x = px(noteCol[k]), y = py(noteSt[k]);
      const w = ctx.measureText(t).width;
      ctx.fillStyle = '#fff';
      ctx.fillRect(x - 6, y - w / 2 - 1, 12, w + 2);
      vtext(ctx, t, x, y, '10px ' + CJK, '#111');
    });
    ctx.restore();

    // unsurveyed blocks
    ctx.save();
    ctx.strokeStyle = '#e3262b';
    ctx.lineWidth = 2.5;
    ctx.strokeRect(px(45), py(51), px(47, 100) - px(45), py(56) - py(51));
    ctx.strokeRect(px(45), py(84.6), px(46) - px(45), py(90) - py(84.6));
    ctx.restore();
    vtext(ctx, '測量未実施', px(44.13), py(53.9), 'bold 14px ' + CJK, '#e3262b');
    vtext(ctx, '測量未実施', px(44.42), py(83.9), 'bold 14px ' + CJK, '#e3262b');

    // erosion front note
    vtext(ctx, '侵食域の拡大:H17以降もゆっくり東へ進行', px(43.95), py(24.7), '14px ' + CJK, '#23408e');

    // legend
    ctx.save();
    ctx.strokeStyle = '#b0b0b0';
    ctx.lineWidth = 1;
    ctx.beginPath(); ctx.moveTo(1968.5, 6); ctx.lineTo(1968.5, 90.5); ctx.lineTo(2009, 90.5); ctx.stroke();
    ctx.strokeStyle = '#111';
    ctx.lineWidth = 2;
    ctx.beginPath();
    ctx.moveTo(1928, 66); ctx.lineTo(1928, 82); ctx.lineTo(1962, 82); ctx.lineTo(1962, 66);
    ctx.moveTo(1945, 70); ctx.lineTo(1945, 82);
    ctx.stroke();
    ctx.fillStyle = ERODE;
    ctx.fillRect(1979, 47, 8, 28);
    ctx.fillStyle = ACCRETE;
    ctx.fillRect(1993, 47, 8, 28);
    ctx.strokeStyle = '#666'; ctx.lineWidth = 1;
    ctx.strokeRect(1993.5, 47.5, 8, 28);
    ctx.restore();
    const lf = '9px "Liberation Sans", Arial, sans-serif';
    vtext(ctx, '−100m', 1928, 45, lf, '#222');
    vtext(ctx, '0m', 1945, 50, lf, '#222');
    vtext(ctx, '+100m', 1962, 45, lf, '#222');
    vtext(ctx, '侵食', 1983, 27, '8px ' + CJK, '#222');
    vtext(ctx, '堆積', 1997, 27, '8px ' + CJK, '#222');
  }
};

new Chart(document.getElementById('shoreline'), {
  type: 'line',
  data: { datasets },
  options: {
    responsive: false,
    animation: false,
    events: [],
    indexAxis: 'y',
    layout: { padding: { left: 30, right: 24, top: 98, bottom: 22 } },
    scales: {
      x: { type: 'linear', min: -285.5, max: 11590.7, display: false },
      y: { type: 'linear', min: 2, max: 90.3, reverse: true, display: false }
    },
    plugins: { legend: { display: false }, tooltip: { enabled: false } }
  },
  plugins: [decor]
});
</script>
</body>
</html>
